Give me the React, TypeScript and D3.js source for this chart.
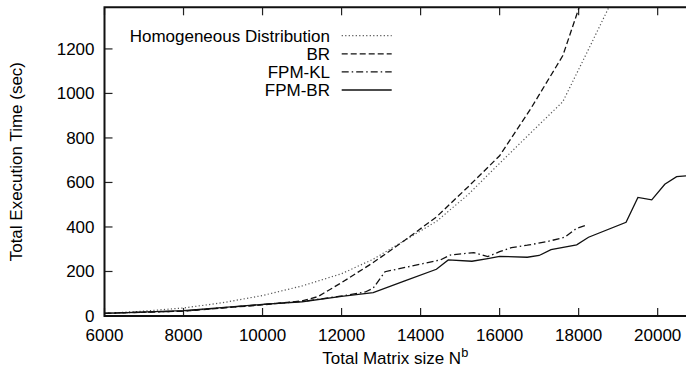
import React from "react";
import * as d3 from "d3";

const W = 686;
const H = 376;

const homogeneousX = [6000, 7000, 8000, 9000, 10000, 11000, 12000, 12800, 13600, 14400, 15200, 16000, 16800, 17600, 18200, 18800];
const homogeneousY = [12, 22, 36, 60, 92, 135, 190, 255, 340, 425, 545, 686, 825, 963, 1180, 1400];

const brX = [6000, 8000, 10000, 11000, 11400, 12000, 12800, 13600, 14400, 15200, 16000, 16800, 17600, 18000, 18200];
const brY = [12, 22, 50, 68, 87, 150, 240, 340, 445, 580, 720, 935, 1170, 1380, 1500];

const fpmklX = [6000, 8000, 10000, 11000, 12000, 12600, 12800, 13100, 14500, 14750, 15350, 15700, 16000, 16300, 16700, 17200, 17650, 17950, 18200];
const fpmklY = [12, 22, 52, 65, 90, 108, 125, 199, 252, 274, 285, 267, 289, 307, 318, 334, 354, 394, 409];

const fpmbrX = [6000, 8000, 10000, 11000, 12000, 12800, 13600, 14400, 14700, 15300, 15700, 16000, 16700, 17000, 17300, 17950, 18250, 19200, 19500, 19850, 20180, 20480, 20717];
const fpmbrY = [12, 24, 52, 64, 88, 105, 158, 210, 252, 246, 258, 268, 264, 272, 298, 320, 354, 421, 533, 522, 592, 626, 630];

const xTicks = [6000, 8000, 10000, 12000, 14000, 16000, 18000, 20000];
const yTicks = [0, 200, 400, 600, 800, 1000, 1200];

const seriesNames = ["Homogeneous Distribution", "BR", "FPM-KL", "FPM-BR"];

const left = 104.5;
const right = 686;
const top = 7.3;
const bottom = 316;

const FONT = "'Liberation Sans', Arial, Helvetica, sans-serif";
const FS = 17;

export default function App() {
  const x = d3.scaleLinear().domain([6000, 20717]).range([left, right]);
  const y = d3.scaleLinear().domain([0, 1387]).range([bottom, top]);

  const mk = (xs: number[], ys: number[]) =>
    d3.line<number>().x((_, i) => x(xs[i])).y((_, i) => y(ys[i]))(xs.map((_, i) => i)) || "";

  const styles = [
    { dash: "1.2,2.3", color: "#555", width: 1.2 },
    { dash: "6,3", color: "#111", width: 1.3 },
    { dash: "7,3,1.5,3", color: "#111", width: 1.3 },
    { dash: "", color: "#111", width: 1.3 },
  ];
  const paths = [
    mk(homogeneousX, homogeneousY),
    mk(brX, brY),
    mk(fpmklX, fpmklY),
    mk(fpmbrX, fpmbrY),
  ];

  const legendTextRight = 330;
  const legendLineX1 = 341.7;
  const legendLineX2 = 391.7;
  const legendY0 = 35.7;
  const legendStep = 18.1;

  return (
    <svg
      width={W}
      height={H}
      style={{ position: "absolute", left: 0, top: 0, background: "#fff" }}
      fontFamily={FONT}
    >
      <rect x={0} y={0} width={W} height={H} fill="#fff" />
      <defs>
        <clipPath id="plotclip">
          <rect x={left} y={top} width={right - left} height={bottom - top} />
        </clipPath>
      </defs>

      {/* ticks */}
      {xTicks.map((t) => (
        <g key={"xt" + t}>
          <line x1={x(t)} x2={x(t)} y1={bottom} y2={bottom - 8} stroke="#222" strokeWidth={1.2} />
          <line x1={x(t)} x2={x(t)} y1={top} y2={top + 8} stroke="#222" strokeWidth={1.2} />
          <text x={x(t)} y={bottom + 25} textAnchor="middle" fontSize={FS} fill="#000">
            {t}
          </text>
        </g>
      ))}
      {yTicks.map((t) => (
        <g key={"yt" + t}>
          <line x1={left} x2={left + 8} y1={y(t)} y2={y(t)} stroke="#222" strokeWidth={1.2} />
          <text x={left - 10} y={y(t) + 6} textAnchor="end" fontSize={FS} fill="#000">
            {t}
          </text>
        </g>
      ))}

      {/* series */}
      <g clipPath="url(#plotclip)">
        {paths.map((p, i) => (
          <path
            key={i}
            d={p}
            fill="none"
            stroke={styles[i].color}
            strokeWidth={styles[i].width}
            strokeDasharray={styles[i].dash || undefined}
          />
        ))}
      </g>

      {/* border */}
      <path
        d={`M${right},${top}H${left}V${bottom}H${right}`}
        fill="none"
        stroke="#111"
        strokeWidth={2}
      />

      {/* legend */}
      {seriesNames.map((n, i) => (
        <g key={n}>
          <text x={legendTextRight} y={legendY0 + i * legendStep + 6} textAnchor="end" fontSize={FS} fill="#000">
            {n}
          </text>
          <line
            x1={legendLineX1}
            x2={legendLineX2}
            y1={legendY0 + i * legendStep}
            y2={legendY0 + i * legendStep}
            stroke={styles[i].color}
            strokeWidth={styles[i].width}
            strokeDasharray={styles[i].dash || undefined}
          />
        </g>
      ))}

      {/* axis titles */}
      <text
        transform={`translate(22,${(top + bottom) / 2}) rotate(-90)`}
        textAnchor="middle"
        fontSize={FS}
        fill="#000"
      >
        Total Execution Time (sec)
      </text>
      <text x={(left + right) / 2} y={bottom + 48} textAnchor="middle" fontSize={FS} fill="#000">
        Total Matrix size N<tspan dy={-7} fontSize={FS * 0.75}>b</tspan>
      </text>
    </svg>
  );
}
